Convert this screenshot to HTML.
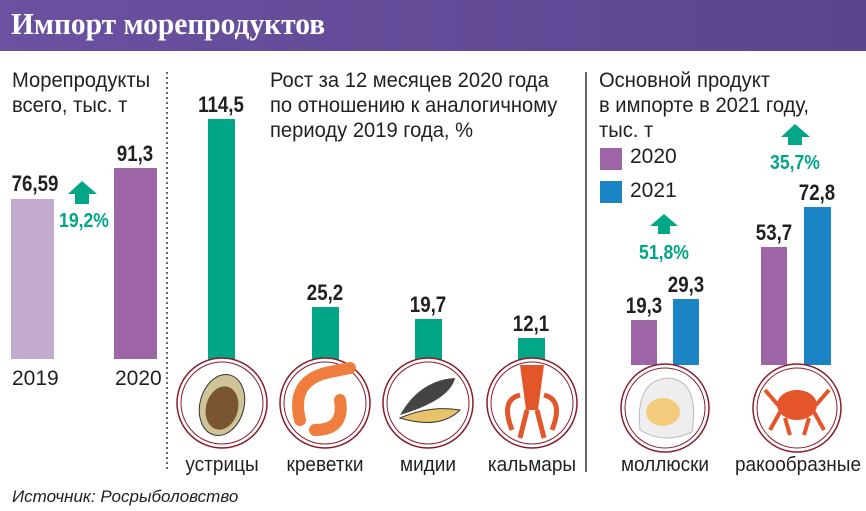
<!DOCTYPE html>
<html><head><meta charset="utf-8"><style>
body{margin:0;width:866px;height:511px;overflow:hidden;background:#fff;font-family:"Liberation Sans",sans-serif;position:relative}
.t{position:absolute;white-space:nowrap;color:#231f20}
.n{font-family:"Liberation Sans Narrow","Liberation Sans",sans-serif;font-weight:bold;font-size:22px;transform:scaleX(.85);text-align:center;width:80px}
.g{color:#00a685;font-weight:bold;font-size:20px;text-align:center;width:80px;transform:scaleX(.88)}
.h{font-size:21px;line-height:25px;transform-origin:0 0;transform:scaleX(.96)}
.l{font-size:20px;text-align:center;width:140px;transform:scaleX(.95)}
</style></head><body>
<div style="position:absolute;left:0;top:0;width:866px;height:51px;background:linear-gradient(90deg,#6b51a0,#5a4590)"></div>
<div class="t" style="left:11px;top:6px;color:#fff;font-family:'Liberation Serif',serif;font-weight:bold;font-size:31px;transform-origin:0 0;transform:scaleX(.95)">Импорт морепродуктов</div>
<svg width="866" height="511" style="position:absolute;left:0;top:0">
<line x1="167" y1="72" x2="167" y2="472" stroke="#333" stroke-width="1.5" stroke-dasharray="2,3"/>
<line x1="586" y1="72" x2="586" y2="472" stroke="#333" stroke-width="1.5"/>
<rect x="11" y="199" width="43" height="160" fill="#c3aacf"/>
<rect x="114" y="168" width="43" height="191" fill="#9d65a6"/>
<g fill="#00a685">
<rect x="208" y="119" width="27" height="245"/><rect x="312" y="307" width="27" height="57"/>
<rect x="415" y="319" width="27" height="45"/><rect x="518" y="338" width="27" height="26"/>
<path d="M68 194 L82 181 L97 194 L89 194 L89 204 L75 204 L75 194Z"/>
<path d="M650 226 L664 214 L678 226 L670 226 L670 234 L658 234 L658 226Z"/>
<path d="M781 137 L795 124 L810 137 L802 137 L802 145 L788 145 L788 137Z"/>
</g>
<rect x="600" y="148" width="22" height="22" fill="#9d65a6"/>
<rect x="600" y="181" width="22" height="22" fill="#1b84c4"/>
<rect x="631" y="320" width="26" height="45" fill="#9d65a6"/><rect x="673" y="299" width="26" height="66" fill="#1b84c4"/>
<rect x="761" y="247" width="26" height="118" fill="#9d65a6"/><rect x="804" y="207" width="27" height="158" fill="#1b84c4"/>
<g fill="#fff" stroke="#8a1c2b" stroke-width="1.5">
<circle cx="222" cy="403" r="45"/><circle cx="325" cy="403" r="45"/><circle cx="428" cy="403" r="45"/><circle cx="532" cy="403" r="45"/>
<circle cx="665" cy="408" r="44"/><circle cx="797" cy="408" r="44"/></g>
<g fill="none" stroke="#8a1c2b" stroke-width="1">
<circle cx="222" cy="403" r="41"/><circle cx="325" cy="403" r="41"/><circle cx="428" cy="403" r="41"/><circle cx="532" cy="403" r="41"/>
<circle cx="665" cy="408" r="40"/><circle cx="797" cy="408" r="40"/></g>
<ellipse cx="222" cy="405" rx="22" ry="31" fill="#cfc39a" stroke="#333" transform="rotate(15 222 405)"/>
<ellipse cx="222" cy="408" rx="16" ry="22" fill="#7a5532" transform="rotate(15 222 408)"/>
<path d="M300 420 Q290 380 330 372 L350 368 M315 430 Q345 430 340 400" stroke="#ee7d3e" stroke-width="12" fill="none" stroke-linecap="round"/>
<path d="M400 415 Q420 380 455 378 Q450 400 400 415Z" fill="#444"/><path d="M400 418 Q430 405 460 410 Q440 430 400 418Z" fill="#e8c36a" stroke="#333"/>
<path d="M520 365 L544 365 L538 410 L526 410Z" fill="#e3562a"/><path d="M520 395 Q500 400 512 430 M544 395 Q564 400 552 430 M527 410 L520 438 M537 410 L544 438" stroke="#e3562a" stroke-width="5" fill="none"/>
<path d="M640 430 Q635 380 668 378 Q700 380 692 432 Q665 445 640 430Z" fill="#eee" stroke="#bbb"/><ellipse cx="663" cy="412" rx="17" ry="14" fill="#f2cc7c"/>
<ellipse cx="797" cy="405" rx="20" ry="15" fill="#e4552a"/><path d="M778 405 L765 390 M816 405 L829 390 M780 412 L770 430 M814 412 L824 430 M785 418 L790 435 M809 418 L804 435" stroke="#e4552a" stroke-width="4" fill="none"/>
</svg>
<div class="t h" style="left:12px;top:68px">Морепродукты<br>всего, тыс. т</div>
<div class="t h" style="left:270px;top:68px">Рост за 12 месяцев 2020 года<br>по отношению к аналогичному<br>периоду 2019 года, %</div>
<div class="t h" style="left:599px;top:68px">Основной продукт<br>в импорте в 2021 году,<br>тыс. т</div>
<div class="t" style="left:630px;top:145px;font-size:21px">2020</div>
<div class="t" style="left:630px;top:179px;font-size:21px">2021</div>
<div class="t n" style="left:-5px;top:171px">76,59</div>
<div class="t n" style="left:95px;top:141px">91,3</div>
<div class="t g" style="left:44px;top:210px">19,2%</div>
<div class="t n" style="left:181px;top:92px">114,5</div>
<div class="t n" style="left:285px;top:280px">25,2</div>
<div class="t n" style="left:388px;top:292px">19,7</div>
<div class="t n" style="left:491px;top:311px">12,1</div>
<div class="t n" style="left:604px;top:293px">19,3</div>
<div class="t n" style="left:646px;top:272px">29,3</div>
<div class="t n" style="left:734px;top:220px">53,7</div>
<div class="t n" style="left:777px;top:180px">72,8</div>
<div class="t g" style="left:624px;top:242px">51,8%</div>
<div class="t g" style="left:755px;top:152px">35,7%</div>
<div class="t" style="left:12px;top:367px;font-size:21px">2019</div>
<div class="t" style="left:115px;top:367px;font-size:21px">2020</div>
<div class="t l" style="left:152px;top:454px">устрицы</div>
<div class="t l" style="left:255px;top:454px">креветки</div>
<div class="t l" style="left:358px;top:454px">мидии</div>
<div class="t l" style="left:462px;top:454px">кальмары</div>
<div class="t l" style="left:595px;top:454px">моллюски</div>
<div class="t l" style="left:728px;top:454px">ракообразные</div>
<div class="t" style="left:12px;top:487px;font-size:17px;font-style:italic">Источник: Росрыболовство</div>
</body></html>
